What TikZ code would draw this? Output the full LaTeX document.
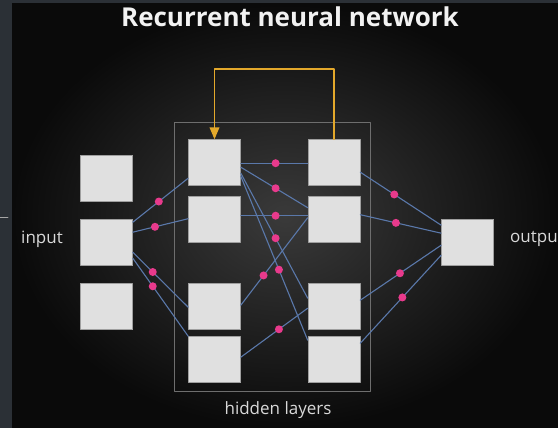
\documentclass[tikz,border=0pt]{standalone}
\usepackage{fontspec}
\setsansfont{Open Sans}
\usepackage{tikz}
\usetikzlibrary{arrows}
\definecolor{slate}{HTML}{2B3036}
\definecolor{bgmid}{HTML}{3A3A3A}
\definecolor{bgdark}{HTML}{0A0A0A}
\definecolor{boxgray}{HTML}{E0E0E0}
\definecolor{linkblue}{HTML}{5A78AA}
\definecolor{dotpink}{HTML}{E83A8C}
\definecolor{loopgold}{HTML}{E3A82B}
\definecolor{framegray}{HTML}{6E6E6E}

\begin{document}
\begin{tikzpicture}[line cap=round,line join=round,>=triangle 45,x=1pt,y=-1pt,
  cell/.style={draw=gray!75,line width=0.6pt,fill=boxgray,minimum width=52pt,minimum height=46pt,inner sep=0pt},
  link/.style={draw=linkblue,line width=1.1pt},
  dot/.style={circle,fill=dotpink,inner sep=0pt,minimum size=8pt},
  lbl/.style={text=white!85!black,font=\sffamily\fontsize{17}{20}\selectfont}]
\useasboundingbox (0,0) rectangle (558,428);
\clip (0,0) rectangle (558,428);
\fill[slate] (0,0) rectangle (558,428);
\shade[inner color=bgmid,outer color=bgdark] (12,4) rectangle (558,428);
\draw[gray!70,line width=0.8pt] (0,217) -- (8,217);
\node[text=white!95!black,font=\sffamily\bfseries\fontsize{26}{31}\selectfont] (title) at (290,17) {Recurrent neural network};
\node[draw=framegray,line width=0.8pt,minimum width=196pt,minimum height=269pt,inner sep=0pt] (hidden) at (272,256.5) {};
% cells
\node[cell] (in1) at (106.5,178.5) {};
\node[cell] (in2) at (106.5,242.5) {};
\node[cell] (in3) at (106.5,306.5) {};
\node[cell] (h1a) at (214.5,162.5) {};
\node[cell] (h1b) at (214.5,219) {};
\node[cell] (h1c) at (214.5,306.5) {};
\node[cell] (h1d) at (214.5,359.5) {};
\node[cell] (h2a) at (334,162.5) {};
\node[cell] (h2b) at (334,219) {};
\node[cell] (h2c) at (334,306.5) {};
\node[cell] (h2d) at (334,359.5) {};
\node[cell] (out) at (467.5,242.5) {};
% input -> first hidden layer
\draw[link] ([yshift=-3pt]in2.north east) -- node[dot,pos=0.47]{} ([yshift=-39pt]h1a.north west);
\draw[link] ([yshift=-13pt]in2.north east) -- node[dot,pos=0.4]{} ([yshift=-23pt]h1b.north west);
\draw[link] ([yshift=-33pt]in2.north east) -- node[dot,pos=0.36]{} ([yshift=-24pt]h1c.north west);
\draw[link] ([yshift=-39pt]in2.north east) -- node[dot,pos=0.36]{} (h1d.north west);
% first -> second hidden layer
\draw[link] ([yshift=-24pt]h1a.north east) -- node[dot,pos=0.52]{} ([yshift=-24pt]h2a.north west);
\draw[link] ([yshift=-28pt]h1a.north east) -- node[dot,pos=0.52]{} ([yshift=-12pt]h2b.north west);
\draw[link] ([yshift=-20pt]h1b.north east) -- node[dot,pos=0.52]{} ([yshift=-20pt]h2b.north west);
\draw[link] ([yshift=-22pt]h1c.north east) -- node[dot,pos=0.34]{} ([yshift=-22pt]h2b.north west);
\draw[link] ([yshift=-34pt]h1a.north east) -- node[dot,pos=0.52]{} ([yshift=-15pt]h2c.north west);
\draw[link] ([yshift=-37pt]h1a.north east) -- node[dot,pos=0.57]{} ([yshift=-4pt]h2d.north west);
\draw[link] ([yshift=-21pt]h1d.north east) -- node[dot,pos=0.57]{} ([yshift=-25pt]h2c.north west);
% second hidden layer -> output
\draw[link] ([yshift=-33pt]h2a.north east) -- node[dot,pos=0.42]{} ([yshift=-6pt]out.north west);
\draw[link] ([yshift=-19pt]h2b.north east) -- node[dot,pos=0.44]{} ([yshift=-14pt]out.north west);
\draw[link] ([yshift=-17pt]h2c.north east) -- node[dot,pos=0.49]{} ([yshift=-26pt]out.north west);
\draw[link] ([yshift=-7pt]h2d.north east) -- node[dot,pos=0.52]{} ([yshift=-36pt]out.north west);
% recurrent loop
\draw[loopgold,line width=1.8pt,->] (h2a.north) -- ++(0,-70) -| (h1a.north);
\node[lbl] (inlabel) at (42,239) {input};
\node[lbl,anchor=west,inner sep=0pt] (outlabel) at (510,239) {output};
\node[lbl] (hidlabel) at (278,410) {hidden layers};
\end{tikzpicture}
\end{document}
